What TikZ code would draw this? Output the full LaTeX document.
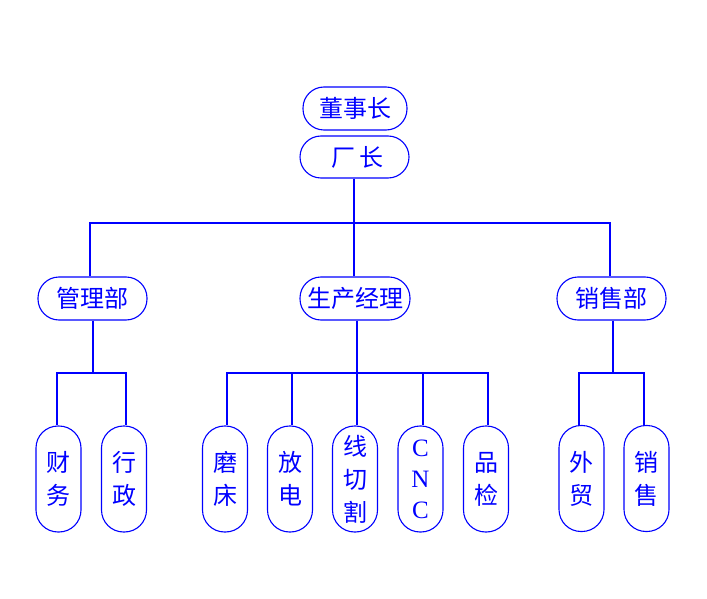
\documentclass[tikz,border=0pt]{standalone}
\usepackage{fontspec}
\setmainfont{Liberation Serif}
\newfontfamily\cjk{Noto Sans CJK SC}
\definecolor{blu}{RGB}{0,0,255}
\begin{document}
\begin{tikzpicture}[x=1pt,y=-1pt,
  line width=1.1pt,
  hbox/.style={draw=blu, text=blu, rounded corners=21pt, minimum width=109pt, minimum height=43pt, inner sep=0pt, font=\cjk\fontsize{24}{28}\selectfont},
  vbox/.style={draw=blu, text=blu, rounded corners=22pt, minimum width=45pt, minimum height=106pt, inner sep=0pt, align=center, font=\cjk\fontsize{24}{33}\selectfont},
  conn/.style={draw=blu}]
\useasboundingbox (0,0) rectangle (707,599);
\node[hbox, minimum width=104pt] (dsz) at (355,108.5) {董事长};
\node[hbox, minimum height=42pt] (cz) at (354.5,157) {\hspace*{6pt}厂\hspace{4pt}长};
\node[hbox] (glb) at (92.5,298.5) {管理部};
\node[hbox, minimum width=110pt] (sc) at (355,298.5) {生产经理};
\node[hbox] (xsb) at (611.5,298.5) {销售部};
\node[vbox] (cw) at (58.5,479) {财\\务};
\node[vbox] (xz) at (124,479) {行\\政};
\node[vbox] (mc) at (225,479) {磨\\床};
\node[vbox] (fd) at (290,479) {放\\电};
\node[vbox] (xqg) at (355,479) {线\\切\\割};
\node[vbox, font=\fontsize{25}{31}\selectfont] (cnc) at (420.5,479) {C\\N\\C};
\node[vbox] (pj) at (486,479) {品\\检};
\node[vbox] (wm) at (581.5,478.5) {外\\贸};
\node[vbox] (xs) at (646.5,478.5) {销\\售};
% level 1 bus
\coordinate (b1) at (354,223);
\draw[conn] (cz.south -| b1) -- (b1);
\draw[conn] ([xshift=-2.5pt]glb.north) |- (b1) -| ([xshift=-1.5pt]xsb.north);
\draw[conn] (sc.north -| b1) -- (b1);
% level 2 buses
\coordinate (b2) at (93,373);
\draw[conn] (glb.south -| b2) -- (b2);
\draw[conn] ([xshift=-1.5pt]cw.north) |- (b2) -| ([xshift=2pt]xz.north);
\coordinate (b3) at (357,373);
\draw[conn] (sc.south -| b3) -- (b3);
\draw[conn] ([xshift=2pt]mc.north) |- (b3) -| ([xshift=2pt]pj.north);
\draw[conn] ([xshift=2pt]fd.north) -- ([xshift=2pt]fd.north |- b3);
\draw[conn] ([xshift=2pt]xqg.north) -- (b3);
\draw[conn] ([xshift=2.5pt]cnc.north) -- ([xshift=2.5pt]cnc.north |- b3);
\coordinate (b4) at (613,373);
\draw[conn] (xsb.south -| b4) -- (b4);
\draw[conn] ([xshift=-2.5pt]wm.north) |- (b4) -| ([xshift=-2.5pt]xs.north);
\end{tikzpicture}
\end{document}
